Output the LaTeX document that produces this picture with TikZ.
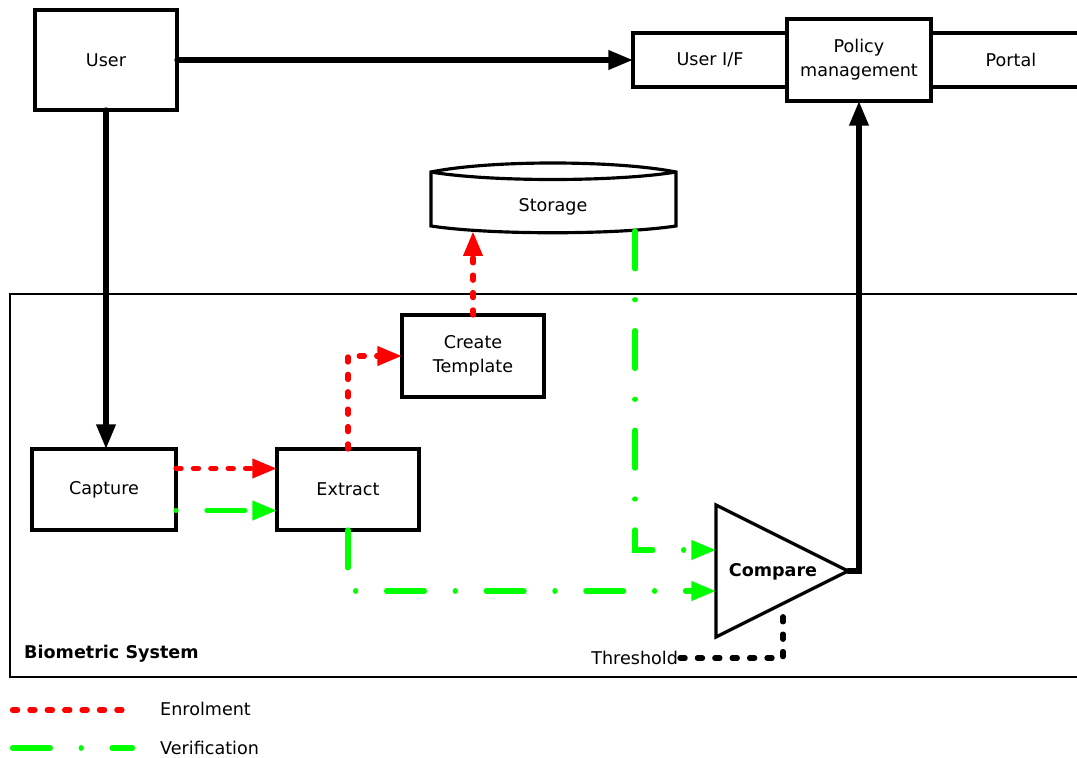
\documentclass[tikz,border=0pt]{standalone}
\usepackage{fontspec}
\setmainfont{DejaVu Sans}
\usepackage{xcolor}
\usetikzlibrary{arrows.meta,positioning,calc,shapes.geometric}
\definecolor{enrolRed}{HTML}{FF0000}
\definecolor{verifGreen}{HTML}{00FF00}

\begin{document}
\begin{tikzpicture}[
x=0.02cm, y=-0.02cm,
every node/.style={font=\fontsize{10}{13.5}\selectfont},
box/.style={draw, line width=1.8pt, align=center, inner sep=2pt, outer sep=0pt},
lbl/.style={font=\fontsize{10}{13.5}\selectfont\bfseries},
heavy/.style={-{Triangle[length=14pt,width=10.5pt]}, line width=3pt, line cap=round},
enrolline/.style={enrolRed, line width=3pt, line cap=round, dash pattern=on 2.9pt off 7pt},
enrol/.style={enrolline, -{Triangle[length=14pt,width=10.5pt]}},
verifline/.style={verifGreen, line width=3pt, line cap=round, dash pattern=on 21.5pt off 17.6pt on 0.01pt off 17.6pt},
verif/.style={verifline, -{Triangle[length=14pt,width=10.5pt]}},
thrline/.style={line width=3pt, line cap=round, dash pattern=on 2.9pt off 7pt}
]
\useasboundingbox (0,0) rectangle (1077,757);

% Biometric system frame
\draw[line width=1pt] (10,294) rectangle (1100,677);
\node[lbl, anchor=west] (biolbl) at (18,654) {Biometric System};

% User and portal strip
\node[box, minimum width=2.84cm, minimum height=2cm] (user) at (106,60) {User};
\node[box, minimum width=3.08cm, minimum height=1.08cm] (uif) at (710,60) {User I/F};
\node[box, minimum width=2.88cm, minimum height=1.64cm, right=0pt of uif] (policy) {Policy\\management};
\node[box, minimum width=3.2cm, minimum height=1.08cm, right=0pt of policy] (portal) {Portal};
\draw[heavy] (user.east) -- (uif.west);

% Storage
\node[minimum width=4.9cm, minimum height=0.96cm, inner sep=0pt] (store) at (553,207) {Storage};
\draw[line width=1.8pt] (431,172) .. controls (490,160) and (615,160) .. (676,172) -- (676,226)
  .. controls (615,235) and (490,235) .. (431,226) -- cycle;
\draw[line width=1.8pt] (431,172) .. controls (490,182) and (615,182) .. (676,172);

% Processing steps
\node[box, minimum width=2.88cm, minimum height=1.62cm] (capture) at (104,489.5) {Capture};
\node[box, minimum width=2.84cm, minimum height=1.62cm, right=2.02cm of capture] (extract) {Extract};
\node[box, minimum width=2.84cm, minimum height=1.64cm] (create) at (473,356) {Create\\Template};
\draw[heavy] (user.south) -- (user.south |- capture.north);

% Compare
\node[draw, line width=1.8pt, isosceles triangle, isosceles triangle stretches, minimum width=2.64cm,
  minimum height=2.64cm, inner sep=0pt, outer sep=0pt, anchor=apex] (cmp) at (848,571) {};
\node[lbl] (cmplbl) at (773,572) {Compare};
\draw[heavy] (cmp.apex) -| (policy.south);

% Threshold
\node[anchor=east, inner sep=1pt] (thr) at (680,658) {Threshold};
\coordinate (thrpt) at ($(cmp.apex)+(-65,39)$);
\draw[thrline] (thr.east) -| (thrpt);

% Enrolment path
\draw[enrol] ($(capture.east)+(0,-21)$) -- ($(extract.west)+(0,-21)$);
\draw[enrol] (extract.north) |- (create.west);
\draw[enrol] (create.north) -- (create.north |- store.south);

% Verification path
\coordinate (storeout) at (635,231);
\draw[verif, dash phase=39.1pt] ($(capture.east)+(0,21)$) -- ($(extract.west)+(0,21)$);
\draw[verif] (storeout) |- ($(cmp.lower side)+(0,-21)$);
\draw[verif] (extract.south) |- ($(cmp.lower side)+(0,20)$);

% Legend
\coordinate (enA) at (12.5,710); \coordinate (enB) at (122.5,710);
\coordinate (veA) at (12.5,748); \coordinate (veB) at (132.5,748);
\draw[enrolline] (enA) -- (enB);
\draw[verifline] (veA) -- (veB);
\node[anchor=west] (enlbl) at (154,709) {Enrolment};
\node[anchor=west] (velbl) at (154,748) {Verification};

\end{tikzpicture}
\end{document}
